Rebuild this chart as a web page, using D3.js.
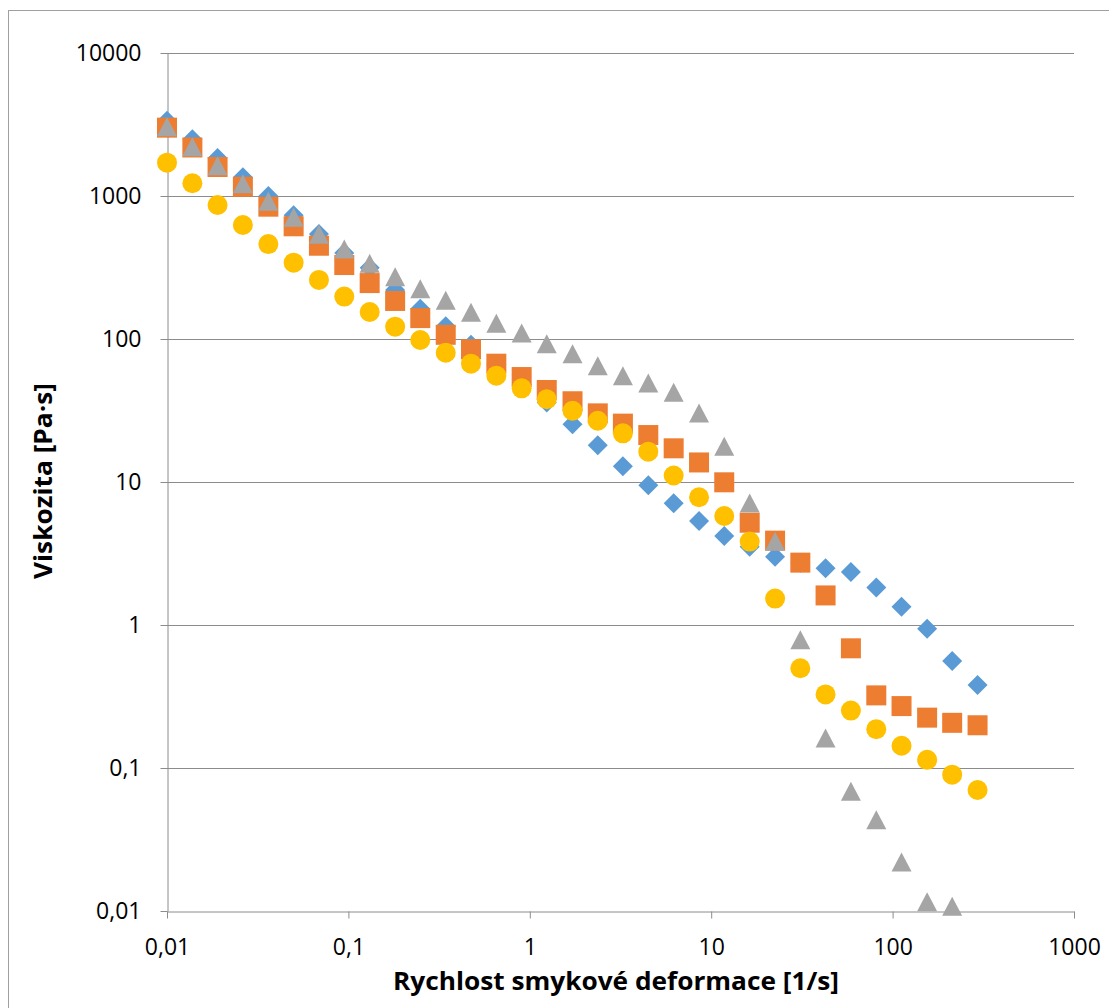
<!DOCTYPE html>
<html>
<head>
<meta charset="utf-8">
<script src="https://cdn.jsdelivr.net/npm/d3@7"></script>
<style>
  body { margin: 0; background: #fff; }
  svg { display: block; }
</style>
</head>
<body>
<svg id="chart" width="1109" height="1008"></svg>
<script>
// Shear rate [1/s]
const shearRate = [0.01, 0.0138, 0.019, 0.0262, 0.0362, 0.0499, 0.0688, 0.0949, 0.131, 0.181,
  0.249, 0.344, 0.474, 0.654, 0.902, 1.24, 1.72, 2.37, 3.26, 4.5, 6.21, 8.57, 11.8, 16.3,
  22.5, 31, 42.7, 58.9, 81.3, 112, 155, 213, 294];

// Viscosity [Pa·s] for the four samples
const viscosityDiamond = [3360, 2490, 1845, 1352, 1000, 733, 542, 400, 315, 220, 163, 123, 91,
  66, 48, 36, 25.3, 18.1, 12.9, 9.5, 7.1, 5.34, 4.19, 3.53, 3.0, 2.72, 2.49, 2.35, 1.83, 1.34,
  0.94, 0.56, 0.38];
const viscositySquare = [3005, 2184, 1595, 1161, 842, 614, 449, 329, 246, 184.5, 140, 107, 84.7,
  67.2, 54.2, 44, 36.7, 30.2, 25.6, 21.3, 17.2, 13.7, 9.95, 5.19, 3.89, 2.73, 1.61, 0.687, 0.322,
  0.271, 0.225, 0.207, 0.199];
const viscosityTriangle = [3053, 2213, 1629, 1219, 918, 710, 540, 426, 338, 273, 225, 187, 154,
  129, 110, 92.7, 78.9, 65, 55.4, 49.2, 42.4, 30.4, 17.8, 7.13, 3.85, 0.789, 0.162, 0.0687,
  0.0435, 0.022, 0.0116, 0.0108, null];
const viscosityCircle = [1710, 1227, 865, 627, 461, 342, 259, 198, 154.5, 122, 98.4, 80.2, 67.2,
  55.4, 45.2, 37.9, 31.5, 26.8, 21.9, 16.3, 11.1, 7.82, 5.78, 3.83, 1.53, 0.498, 0.327, 0.252,
  0.187, 0.143, 0.114, 0.0898, 0.0702];

const xTickValues = [0.01, 0.1, 1, 10, 100, 1000];
const xTickLabels = ["0,01", "0,1", "1", "10", "100", "1000"];
const yTickValues = [0.01, 0.1, 1, 10, 100, 1000, 10000];
const yTickLabels = ["0,01", "0,1", "1", "10", "100", "1000", "10000"];

const xTitle = "Rychlost smykové deformace [1/s]";
const yTitle = "Viskozita [Pa·s]";

const svg = d3.select("#chart");
const axisColor = "#8c8c8c";
const tickFont = "'Open Sans', 'Liberation Sans', sans-serif";

const x = d3.scaleLog().domain([0.01, 1000]).range([167, 1074]);
const y = d3.scaleLog().domain([0.01, 10000]).range([911, 53]);

// Chart area frame
svg.append("rect")
  .attr("x", 8.5).attr("y", 10.5)
  .attr("width", 1200).attr("height", 1100)
  .attr("fill", "none").attr("stroke", "#a0a0a0").attr("stroke-width", 1);

// Horizontal gridlines
svg.append("g")
  .selectAll("line")
  .data(yTickValues.slice(1))
  .join("line")
  .attr("x1", x.range()[0]).attr("x2", x.range()[1])
  .attr("y1", d => Math.round(y(d)) + 0.5).attr("y2", d => Math.round(y(d)) + 0.5)
  .attr("stroke", axisColor).attr("stroke-width", 1);

// Y axis
const yAxis = svg.append("g")
  .attr("transform", `translate(${Math.round(x.range()[0]) + 0.5},0)`)
  .call(d3.axisLeft(y)
    .tickValues(yTickValues)
    .tickFormat((d, i) => yTickLabels[i])
    .tickSize(7)
    .tickPadding(19)
    .tickSizeOuter(0));

// X axis
const xAxis = svg.append("g")
  .attr("transform", `translate(0,${Math.round(y.range()[0]) + 0.5})`)
  .call(d3.axisBottom(x)
    .tickValues(xTickValues)
    .tickFormat((d, i) => xTickLabels[i])
    .tickSize(7)
    .tickPadding(20)
    .tickSizeOuter(0));

[yAxis, xAxis].forEach(g => {
  g.select(".domain").attr("stroke", axisColor);
  g.selectAll(".tick line").attr("stroke", axisColor);
  g.selectAll(".tick text")
    .attr("fill", "#000")
    .style("font-family", tickFont)
    .style("font-size", "23px");
});

// Markers
const series = [
  { values: viscosityDiamond, color: "#5B9BD5", shape: "diamond" },
  { values: viscositySquare, color: "#ED7D31", shape: "square" },
  { values: viscosityTriangle, color: "#A5A5A5", shape: "triangle" },
  { values: viscosityCircle, color: "#FFC000", shape: "circle" }
];

const shapePath = {
  diamond: "M0,-10L10,0L0,10L-10,0Z",
  square: "M-10,-10L10,-10L10,10L-10,10Z",
  triangle: "M0,-9.5L10,9.5L-10,9.5Z",
  circle: "M10,0A10,10 0 1,1 -10,0A10,10 0 1,1 10,0Z"
};

series.forEach(s => {
  const pts = shearRate
    .map((r, i) => ({ r, v: s.values[i] }))
    .filter(p => p.v != null);
  svg.append("g")
    .selectAll("path")
    .data(pts)
    .join("path")
    .attr("transform", p => `translate(${x(p.r)},${y(p.v)})`)
    .attr("d", shapePath[s.shape])
    .attr("fill", s.color);
});

// Axis titles
svg.append("text")
  .attr("x", 616).attr("y", 990)
  .attr("text-anchor", "middle")
  .attr("textLength", 446).attr("lengthAdjust", "spacingAndGlyphs")
  .style("font-family", tickFont)
  .style("font-weight", "bold")
  .style("font-size", "25px")
  .text(xTitle);

svg.append("text")
  .attr("transform", "translate(52,481) rotate(-90)")
  .attr("text-anchor", "middle")
  .attr("textLength", 196).attr("lengthAdjust", "spacingAndGlyphs")
  .style("font-family", tickFont)
  .style("font-weight", "bold")
  .style("font-size", "25px")
  .text(yTitle);
</script>
</body>
</html>
